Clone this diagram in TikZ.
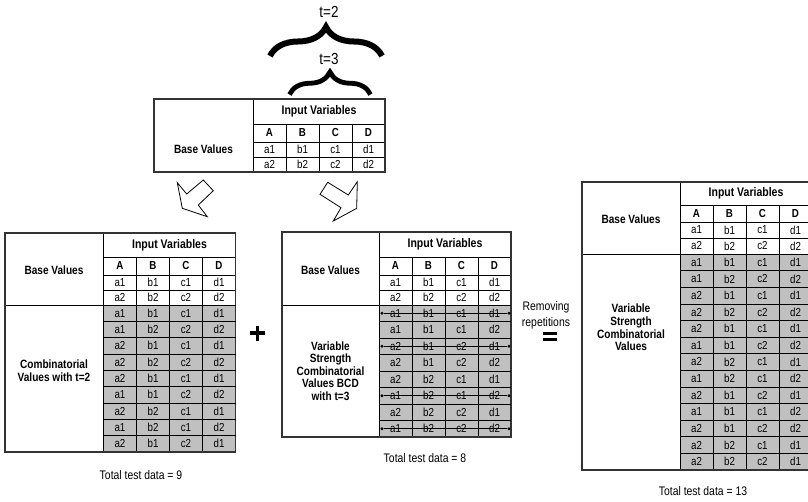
\documentclass[tikz,border=0pt]{standalone}
\usepackage{fontspec}
\setmainfont[FakeStretch=0.84]{Liberation Sans}
\usetikzlibrary{decorations.pathreplacing}
\definecolor{cellgrey}{HTML}{C0C0C0}
\definecolor{edgecol}{HTML}{333333}

\tikzset{
 outer/.style={draw=edgecol, line width=1.1pt},
 inner/.style={draw=black, line width=0.7pt},
 cell/.style={inner sep=0pt, font=\fontsize{11.6}{13}\selectfont},
 hcell/.style={inner sep=0pt, font=\bfseries\fontsize{11.6}{13}\selectfont},
 ivl/.style={inner sep=0pt, font=\bfseries\fontsize{12.5}{13}\selectfont},
 lbl/.style={inner sep=0pt, align=center, font=\bfseries\fontsize{12}{12.6}\selectfont},
 note/.style={inner sep=0pt, align=center, font=\fontsize{12.4}{16}\selectfont},
 tlbl/.style={inner sep=0pt, font=\fontsize{16}{18}\selectfont},
 bigbrace/.style={decorate, decoration={brace, amplitude=#1}},
 blockarrow/.style={draw=black, line width=0.8pt, fill=white, line join=miter},
 dotnode/.style={circle, fill=black, inner sep=0pt, minimum size=3.2pt},
 strike/.style={draw=black, line width=0.7pt},
 symbol/.style={line width=3.6pt, draw=black},
}

% #1 name #2 xL #3 yT #4 xD #5 y1 #6 y2 #7 y3 #8 y4 #9 yB
\newcommand{\mkframe}[9]{%
  \fill[cellgrey] (#4,#8) rectangle ({#4+132},#9);
  \draw[inner] (#4,#5) -- ({#4+132},#5);
  \draw[inner] (#4,#6) -- ({#4+132},#6);
  \draw[inner] (#4,#7) -- ({#4+132},#7);
  \draw[inner] (#2,#8) -- ({#4+132},#8);
  \foreach \k in {1,2,3} {\draw[inner] ({#4+33*\k},#5) -- ({#4+33*\k},#9);}
  \draw[inner] (#4,#3) -- (#4,#9);
  \draw[outer] (#2,#3) rectangle ({#4+132},#9);
  \node[ivl] (#1-iv) at ({#4+66},{(#3+#5)/2}) {Input Variables};
  \foreach \h [count=\c] in {A,B,C,D} {\node[hcell] (#1-h\c) at ({#4+33*\c-16.5},{(#5+#6)/2}) {\h};}
  \foreach \h [count=\c] in {a1,b1,c1,d1} {\node[cell] (#1-x\c) at ({#4+33*\c-16.5},{(#6+#7)/2}) {\h};}
  \foreach \h [count=\c] in {a2,b2,c2,d2} {\node[cell] (#1-y\c) at ({#4+33*\c-16.5},{(#7+#8)/2}) {\h};}
}

% #1 name #2 xD #3 y4 #4 gh #5 list
\newcommand{\mkrows}[5]{%
  \foreach \p/\q/\s/\u [count=\r] in {#5} {
    \draw[inner] (#2,{#3+(\r-1)*#4}) -- ({#2+132},{#3+(\r-1)*#4});
    \node[cell] (#1-r\r-1) at ({#2+16.5},{#3+(\r-0.5)*#4}) {\p};
    \node[cell] (#1-r\r-2) at ({#2+49.5},{#3+(\r-0.5)*#4}) {\q};
    \node[cell] (#1-r\r-3) at ({#2+82.5},{#3+(\r-0.5)*#4}) {\s};
    \node[cell] (#1-r\r-4) at ({#2+115.5},{#3+(\r-0.5)*#4}) {\u};
  }
}

\begin{document}
\begin{tikzpicture}[x=1pt,y=-1pt]
\clip (0,0) rectangle (808,501);
\fill[white] (0,0) rectangle (808,501);

% braces
\draw[bigbrace=29, line width=6pt] (270,56) -- (382,56);
\node[tlbl] (t2) at (329,12) {t=2};
\draw[bigbrace=22.5, line width=4.8pt] (289.5,94.5) -- (370.5,94.5);
\node[tlbl] (t3) at (329,59) {t=3};

% top table
\mkframe{T}{154}{99}{253}{124}{142}{157}{172}{172}
\node[lbl] (T-base) at (203.5,149) {Base Values};

% block arrows
\draw[blockarrow] (177.3,182.7) -- (186.7,194) -- (203.3,180) -- (213.3,190.7) -- (198.3,205) -- (207.3,216.7) -- (182.3,208.3) -- cycle;
\draw[blockarrow] (320,194.3) -- (327.7,182.3) -- (348.3,195) -- (357.3,181.7) -- (356.7,208.3) -- (333.3,221) -- (341,207.7) -- cycle;

% left table
\mkframe{L}{5}{233}{103.5}{257}{275}{290}{305}{452}
\mkrows{L}{103.5}{305}{16.333}{a1/b1/c1/d1, a1/b2/c2/d2, a2/b1/c1/d1, a2/b2/c2/d2, a2/b1/c1/d1, a1/b1/c2/d2, a2/b2/c1/d1, a1/b2/c1/d2, a2/b1/c2/d1}
\node[lbl] (L-base) at (54,270) {Base Values};
\node[lbl] (L-comb) at (54,371) {Combinatorial\\Values with t=2};
\node[note] (L-total) at (141,475) {Total test data = 9};

% plus
\draw[symbol] (250,333) -- (265,333);
\draw[symbol] (257.5,325.5) -- (257.5,340.5);

% middle table
\mkframe{M}{282}{232}{379}{257}{275}{290}{305}{437}
\mkrows{M}{379}{305}{16.5}{a1/b1/c1/d1, a1/b1/c1/d2, a2/b1/c2/d1, a2/b1/c2/d2, a2/b2/c1/d1, a1/b2/c1/d2, a2/b2/c2/d1, a1/b2/c2/d2}
\node[lbl] (M-base) at (330.5,270) {Base Values};
\node[lbl] (M-var) at (330.5,371) {Variable\\Strength\\Combinatorial\\Values BCD\\with t=3};
\node[note] (M-total) at (425,458) {Total test data = 8};
\foreach \r in {1,3,6,8} {
  \node[dotnode] (s\r l) at (382,{305+(\r-0.5)*16.5}) {};
  \node[dotnode] (s\r r) at (509,{305+(\r-0.5)*16.5}) {};
  \draw[strike] (s\r l) -- (s\r r);
}

% removing repetitions
\node[note] (rem) at (546,315) {Removing\\repetitions};
\draw[line width=3.3pt] (543,333.3) -- (557,333.3);
\draw[line width=3.3pt] (543,339.2) -- (557,339.2);

% right table
\mkframe{R}{582}{182}{680}{205}{222}{238}{254}{470}
\mkrows{R}{680}{254}{16.615}{a1/b1/c1/d1, a1/b2/c2/d2, a2/b1/c1/d1, a2/b2/c2/d2, a2/b1/c1/d1, a1/b1/c2/d2, a2/b2/c1/d1, a1/b2/c1/d2, a2/b1/c2/d1, a1/b1/c1/d2, a2/b1/c2/d2, a2/b2/c1/d1, a2/b2/c2/d1}
\node[lbl] (R-base) at (631,219) {Base Values};
\node[lbl] (R-var) at (631,327.5) {Variable\\Strength\\Combinatorial\\Values};
\node[note] (R-total) at (703,491) {Total test data = 13};
\end{tikzpicture}
\end{document}
